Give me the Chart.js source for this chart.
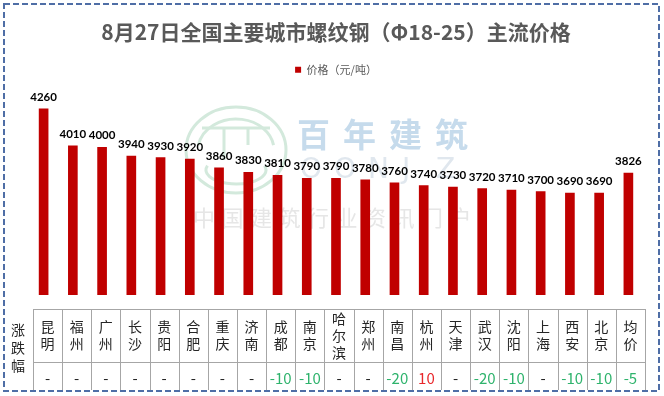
<!DOCTYPE html>
<html>
<head>
<meta charset="utf-8">
<script src="https://cdn.jsdelivr.net/npm/chart.js@4/dist/chart.umd.min.js"></script>
<style>
  html, body { margin: 0; padding: 0; background: #fff; }
  #wrap { width: 664px; height: 396px; }
</style>
</head>
<body>
<div id="wrap"><canvas id="c" width="664" height="396"></canvas></div>
<script>
// ── Data ──
const cities = ['昆明', '福州', '广州', '长沙', '贵阳', '合肥', '重庆', '济南', '成都', '南京', '哈尔滨',
                '郑州', '南昌', '杭州', '天津', '武汉', '沈阳', '上海', '西安', '北京', '均价'];
const prices = [4260, 4010, 4000, 3940, 3930, 3920, 3860, 3830, 3810, 3790, 3790,
                3780, 3760, 3740, 3730, 3720, 3710, 3700, 3690, 3690, 3826];
// null = unchanged, shown as "-"
const changes = [null, null, null, null, null, null, null, null, -10, -10, null,
                 null, -20, 10, null, -20, -10, null, -10, -10, -5];
const yMin = 3000;
const yMax = 4420;

// ── Style constants ──
const BAR_RED   = '#c00000';
const TEXT_GREY = '#595959';
const CJK_FONT  = '"Noto Sans CJK SC", "Noto Sans", sans-serif';
const GRID_LINE = '#a6a6a6';

// white background, dashed frame and faint watermark
const backdrop = {
  id: 'backdrop',
  beforeDraw(chart) {
    const ctx = chart.ctx;
    ctx.save();
    ctx.fillStyle = '#fff';
    ctx.fillRect(0, 0, chart.width, chart.height);
    ctx.setLineDash([6, 3]);
    ctx.strokeStyle = '#4f6ea6';
    ctx.lineWidth = 2;
    ctx.strokeRect(4, 4, chart.width - 9, chart.height - 9);
    ctx.restore();
  },
  beforeDatasetsDraw(chart) {
    const ctx = chart.ctx;
    ctx.save();
    // logo
    ctx.strokeStyle = '#d3e9dc';
    ctx.lineWidth = 3;
    ctx.beginPath();
    ctx.ellipse(236, 150, 50, 43, 0, 0, Math.PI * 2);
    ctx.stroke();
    ctx.beginPath();
    ctx.ellipse(236, 150, 38, 31, 0, Math.PI * 1.05, Math.PI * 1.95);
    ctx.stroke();
    ctx.beginPath();
    ctx.moveTo(202, 128); ctx.lineTo(270, 128);
    ctx.moveTo(224, 128); ctx.lineTo(224, 160);
    ctx.moveTo(248, 128); ctx.lineTo(248, 145);
    ctx.stroke();
    ctx.beginPath();
    ctx.ellipse(236, 170, 30, 14, 0, Math.PI * 1.1, Math.PI * 1.9, true);
    ctx.stroke();
    // brand text
    ctx.textAlign = 'left';
    ctx.textBaseline = 'middle';
    ctx.fillStyle = '#c6dbec';
    ctx.font = 'bold 33px ' + CJK_FONT;
    let x = 297;
    for (const ch of '百年建筑') { ctx.fillText(ch, x, 134); x += 46; }
    ctx.fillStyle = '#e0e7ee';
    ctx.font = '28px "DejaVu Sans"';
    x = 300;
    for (const ch of 'OONJZ') { ctx.fillText(ch, x, 171); x += 34; }
    ctx.fillStyle = '#e6e6e6';
    ctx.font = '22px ' + CJK_FONT;
    x = 193;
    for (const ch of '中国建筑行业资讯门户') { ctx.fillText(ch, x, 218); x += 28.5; }
    ctx.restore();
  }
};

// value labels above bars
const valueLabels = {
  id: 'valueLabels',
  afterDatasetsDraw(chart) {
    const ctx = chart.ctx;
    const meta = chart.getDatasetMeta(0);
    ctx.save();
    ctx.font = 'bold 11.5px Lato, sans-serif';
    ctx.fillStyle = '#000';
    ctx.textAlign = 'center';
    ctx.textBaseline = 'bottom';
    meta.data.forEach((bar, i) => {
      ctx.fillText(String(prices[i]), bar.x, bar.y - 6);
    });
    ctx.restore();
  }
};

// data table under the chart
const dataTable = {
  id: 'dataTable',
  afterDraw(chart) {
    const ctx = chart.ctx;
    const area = chart.chartArea;
    const left = area.left + 4;
    const right = area.right + 2;
    const colW = (right - left) / cities.length;
    const top = area.bottom + 14;
    const mid = top + 53;
    const bottom = chart.height - 6;

    ctx.save();
    ctx.strokeStyle = GRID_LINE;
    ctx.lineWidth = 1;
    ctx.beginPath();
    ctx.moveTo(left, top + 0.5); ctx.lineTo(right, top + 0.5);
    ctx.moveTo(left, mid + 0.5); ctx.lineTo(right, mid + 0.5);
    for (let i = 0; i <= cities.length; i++) {
      const x = Math.round(left + i * colW) + 0.5;
      ctx.moveTo(x, top); ctx.lineTo(x, bottom);
    }
    ctx.stroke();

    ctx.textAlign = 'center';
    ctx.textBaseline = 'middle';
    ctx.fillStyle = '#262626';
    ctx.font = '14px ' + CJK_FONT;
    // row header
    ['涨', '跌', '幅'].forEach((ch, k) => ctx.fillText(ch, 18, 330 + k * 18));

    cities.forEach((name, i) => {
      const cx = left + (i + 0.5) * colW;
      const chars = [...name];
      const step = 17;
      const y0 = (top + mid) / 2 - (chars.length - 1) * step / 2;
      ctx.fillStyle = '#262626';
      ctx.font = '14px ' + CJK_FONT;
      chars.forEach((ch, k) => ctx.fillText(ch, cx, y0 + k * step));

      const v = changes[i];
      let txt = '-', col = '#262626';
      if (v !== null) {
        txt = String(v);
        col = v < 0 ? '#2eb36c' : '#e8262a';
      }
      ctx.fillStyle = col;
      ctx.font = '15px ' + CJK_FONT;
      ctx.fillText(txt, cx, (mid + bottom) / 2 + 2);
    });
    ctx.restore();
  }
};

new Chart(document.getElementById('c').getContext('2d'), {
  type: 'bar',
  data: {
    labels: cities,
    datasets: [{
      label: '价格（元/吨）',
      data: prices,
      backgroundColor: BAR_RED,
      borderWidth: 0,
      barThickness: 9,
    }],
  },
  options: {
    responsive: false,
    animation: false,
    devicePixelRatio: 1,
    layout: { padding: { left: 29, right: 21, top: 0, bottom: 101 } },
    plugins: {
      title: {
        display: true,
        text: '8月27日全国主要城市螺纹钢（Φ18-25）主流价格',
        color: TEXT_GREY,
        font: { family: CJK_FONT, size: 21, weight: 'bold' },
        padding: { top: 19, bottom: 8 },
      },
      legend: {
        display: true,
        labels: {
          color: TEXT_GREY,
          font: { family: CJK_FONT, size: 11 },
          boxWidth: 6,
          boxHeight: 6,
          padding: 12,
        },
      },
      tooltip: { enabled: false },
    },
    scales: {
      x: { display: false, grid: { display: false } },
      y: { display: false, min: yMin, max: yMax, grid: { display: false } },
    },
  },
  plugins: [backdrop, valueLabels, dataTable],
});
</script>
</body>
</html>
